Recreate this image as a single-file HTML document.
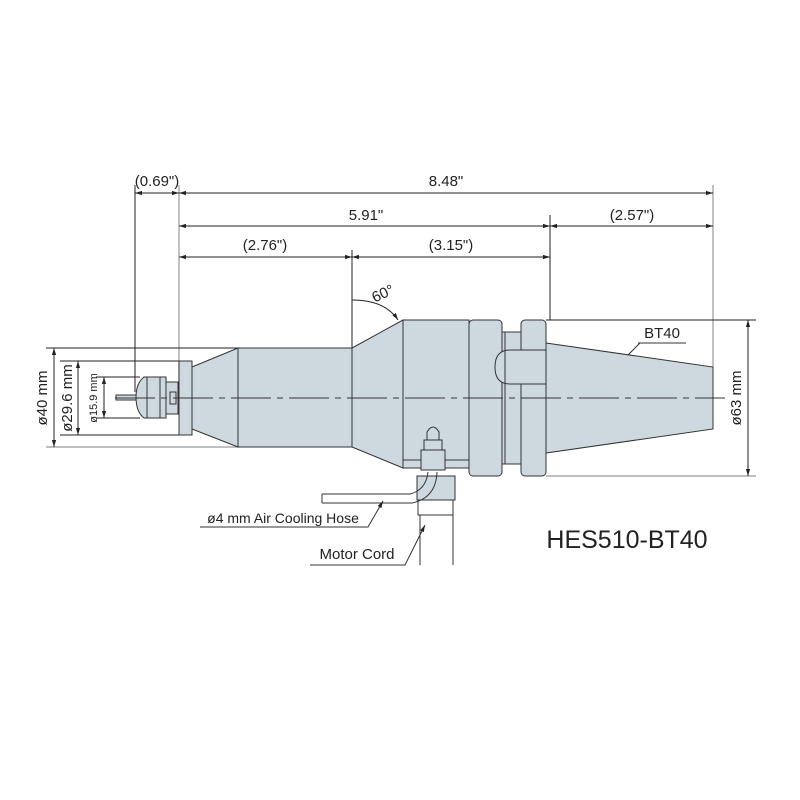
<!DOCTYPE html>
<html><head><meta charset="utf-8"><style>html,body{margin:0;padding:0;background:#fff}svg{display:block}text{font-family:"Liberation Sans",sans-serif;fill:#222}</style></head>
<body>
<svg width="800" height="800" viewBox="0 0 800 800" xmlns="http://www.w3.org/2000/svg">
<defs>
<marker id="a" viewBox="0 0 10 10" refX="10" refY="5" markerWidth="7" markerHeight="7" orient="auto-start-reverse"><path d="M0,2 L10,5 L0,8 z" fill="#222"/></marker>
</defs>
<g stroke="#999" stroke-width="1.2" fill="none">
<line x1="179" y1="185" x2="179" y2="405"/>
<line x1="713" y1="185" x2="713" y2="367"/>
<line x1="46" y1="447" x2="238" y2="447"/>
<line x1="546" y1="476" x2="756" y2="476"/>
</g>
<g stroke="#222" stroke-width="1" fill="none">
<line x1="135" y1="185" x2="135" y2="392"/>
<line x1="352" y1="250" x2="352" y2="348"/>
<line x1="550" y1="215" x2="550" y2="320"/>
<line x1="46" y1="348" x2="238" y2="348"/>
<line x1="60" y1="361" x2="192" y2="361"/>
<line x1="60" y1="435" x2="192" y2="435"/>
<line x1="96" y1="377" x2="140" y2="377"/>
<line x1="96" y1="418" x2="140" y2="418"/>
<line x1="546" y1="320" x2="756" y2="320"/>
<line x1="135" y1="193" x2="179" y2="193" marker-start="url(#a)" marker-end="url(#a)"/>
<line x1="179" y1="193" x2="713" y2="193" marker-start="url(#a)" marker-end="url(#a)"/>
<line x1="179" y1="226" x2="550" y2="226" marker-start="url(#a)" marker-end="url(#a)"/>
<line x1="550" y1="226" x2="713" y2="226" marker-start="url(#a)" marker-end="url(#a)"/>
<line x1="179" y1="257" x2="352" y2="257" marker-start="url(#a)" marker-end="url(#a)"/>
<line x1="352" y1="257" x2="550" y2="257" marker-start="url(#a)" marker-end="url(#a)"/>
<line x1="54" y1="348" x2="54" y2="447" marker-start="url(#a)" marker-end="url(#a)"/>
<line x1="78" y1="361" x2="78" y2="435" marker-start="url(#a)" marker-end="url(#a)"/>
<line x1="104" y1="377" x2="104" y2="418" marker-start="url(#a)" marker-end="url(#a)"/>
<line x1="748" y1="320" x2="748" y2="476" marker-start="url(#a)" marker-end="url(#a)"/>
<path d="M352,300 Q385,300 398,320" marker-end="url(#a)"/>
</g>
<g stroke="#333" stroke-width="1" fill="#cdd8df">
<rect x="179" y="361" width="13" height="74"/>
<polygon points="192,367 238,348 238,447 192,429"/>
<rect x="238" y="348" width="114" height="99"/>
<polygon points="352,348 403,320 403,468 352,447"/>
<rect x="403" y="320" width="66" height="148"/>
<line x1="403" y1="460" x2="469" y2="460"/>
<rect x="469" y="320" width="33" height="156" rx="4"/>
<polygon points="502,332 524,332 524,464 502,464"/>
<rect x="521" y="320" width="25" height="156" rx="4"/>
<path d="M546,350 L510,350 Q495,350 495,367 Q495,384 510,384 L546,384" />
<line x1="505" y1="332" x2="505" y2="464"/>
<polygon points="546,343 713,367 713,429 546,453"/>
<path d="M144,377 L166,377 L166,418 L144,418 Q136,412 136,397 Q136,383 144,377 Z"/>
<line x1="147" y1="377" x2="147" y2="418"/><line x1="160" y1="377" x2="160" y2="418"/>
<rect x="166" y="382" width="12" height="32"/>
<rect x="170" y="392" width="6" height="12"/>
<rect x="116" y="395" width="20" height="5"/>
<path d="M427,440 L427,432 Q433,422 439,432 L439,440 Z"/>
<rect x="424" y="440" width="18" height="10"/>
<rect x="421" y="450" width="24" height="20"/>
<rect x="417" y="476" width="38" height="24"/>
<rect x="418" y="500" width="35" height="15" fill="#fff"/>
</g>
<g stroke="#333" stroke-width="1" fill="none">
<line x1="420" y1="515" x2="420" y2="565"/>
<line x1="453" y1="515" x2="453" y2="565"/>
<path d="M322,494 L410,494 Q426,490 428,472"/>
<path d="M322,503 L412,503 Q436,498 437,472"/>
<line x1="322" y1="494" x2="322" y2="503"/>
<line x1="115" y1="398" x2="725" y2="398" stroke-dasharray="40,6,6,6" stroke-width="0.9"/>
<path d="M200,527 L368,527 L383,501" marker-end="url(#a)"/>
<path d="M310,565 L405,565 L425,525" marker-end="url(#a)"/>
<path d="M638,343 L686,343 M640,343 L628,355" />
</g>
<g font-size="15" text-anchor="middle">
<text x="157" y="186">(0.69")</text>
<text x="446" y="186">8.48"</text>
<text x="366" y="220">5.91"</text>
<text x="632" y="220">(2.57")</text>
<text x="265" y="250">(2.76")</text>
<text x="451" y="250">(3.15")</text>
<text x="385" y="298" transform="rotate(-25 385 298)">60°</text>
<text x="662" y="338">BT40</text>
<text x="47" y="398" transform="rotate(-90 47 398)">ø40 mm</text>
<text x="72" y="398" transform="rotate(-90 72 398)">ø29.6 mm</text>
<text x="97" y="398" font-size="11" transform="rotate(-90 97 398)">ø15.9 mm</text>
<text x="741" y="398" transform="rotate(-90 741 398)">ø63 mm</text>
<text x="283" y="523" font-size="14">ø4 mm Air Cooling Hose</text>
<text x="357" y="559">Motor Cord</text>
</g>
<text x="627" y="548" font-size="25" text-anchor="middle">HES510-BT40</text>
</svg>
</body></html>
